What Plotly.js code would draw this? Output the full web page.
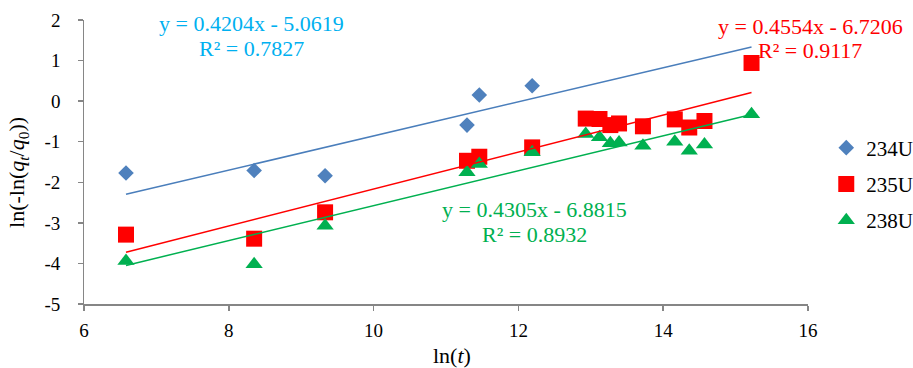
<!DOCTYPE html>
<html>
<head>
<meta charset="utf-8">
<script src="https://cdn.plot.ly/plotly-3.0.1.min.js"></script>
<style>html,body{margin:0;padding:0;background:#fff;}#chart{width:913px;height:368px;}</style>
</head>
<body>
<div id="chart"></div>
<script>
// ln(t) values
const lnT = [6.58, 8.35, 9.33, 11.29, 11.46, 12.19, 12.93, 13.12, 13.27, 13.39, 13.72, 14.16, 14.36, 14.57, 15.22];
const lnT234 = [6.58, 8.35, 9.33, 11.29, 11.46, 12.19];
// ln(-ln(qt/q0)) values
const y234 = [-1.77, -1.71, -1.84, -0.59, 0.15, 0.38];
const y235 = [-3.29, -3.39, -2.74, -1.47, -1.37, -1.14, -0.43, -0.44, -0.59, -0.55, -0.62, -0.45, -0.65, -0.49, 0.94];
const y238 = [-3.94, -4.02, -3.07, -1.75, -1.55, -1.26, -0.81, -0.89, -1.04, -1.02, -1.10, -1.00, -1.22, -1.07, -0.32];
// series names
const seriesNames = ['234U', '235U', '238U'];
// linear fits (slope, intercept, R²)
const slopes = [0.4204, 0.4554, 0.4305];
const intercepts = [-5.0619, -6.7206, -6.8815];
const r2 = ['0.7827', '0.9117', '0.8932'];
// trendline x extent
const fitRange = [6.58, 15.22];
// axis ticks
const xTicks = [6, 8, 10, 12, 14, 16];
const yTicks = [-5, -4, -3, -2, -1, 0, 1, 2];
// axis titles
const xTitle = 'ln(<i>t</i>)';
const yTitle = 'ln(-ln(<i>q</i><sub><i>t</i></sub>/<i>q</i><sub>0</sub>))';

const FAM = "'Liberation Serif', 'Times New Roman', serif";
const colors = ['#4F81BD', '#FF0000', '#00B050'];
const lineColors = ['#4A7EBB', '#FF0000', '#00B050'];
const eqColors = ['#00B0F0', '#FF0000', '#00B050'];
const symbols = ['diamond', 'square', 'triangle-up'];
const sizes = [12, 16, 15];
const xs = [lnT234, lnT, lnT];
const ys = [y234, y235, y238];

const traces = [];
for (let i = 0; i < 3; i++) {
  traces.push({
    x: xs[i], y: ys[i], type: 'scatter', mode: 'markers', name: seriesNames[i],
    legendgroup: 'g' + i,
    marker: {symbol: symbols[i], size: sizes[i], color: colors[i], line: {width: 0}}
  });
}
for (let i = 0; i < 3; i++) {
  traces.push({
    x: fitRange, y: fitRange.map(v => slopes[i] * v + intercepts[i]),
    type: 'scatter', mode: 'lines', showlegend: false, hoverinfo: 'skip',
    line: {color: lineColors[i], width: 1.5}
  });
}

function eqLine(i) {
  const s = slopes[i].toFixed(4);
  const b = Math.abs(intercepts[i]).toFixed(4);
  return 'y = ' + s + 'x ' + (intercepts[i] < 0 ? '- ' : '+ ') + b;
}
// equation label positions (paper coords): [x, y of equation line, y of R² line]
const eqPos = [[0.2313, 0.986, 0.901], [1.0028, 0.978, 0.894], [0.6229, 0.331, 0.243]];
const annotations = [];
for (let i = 0; i < 3; i++) {
  const f = {family: FAM, size: 22, color: eqColors[i]};
  annotations.push({xref: 'paper', yref: 'paper', x: eqPos[i][0], y: eqPos[i][1], xanchor: 'center', yanchor: 'middle',
    showarrow: false, text: eqLine(i), font: f});
  annotations.push({xref: 'paper', yref: 'paper', x: eqPos[i][0], y: eqPos[i][2], xanchor: 'center', yanchor: 'middle',
    showarrow: false, text: 'R² = ' + r2[i], font: f});
}
annotations.push({
  xref: 'paper', yref: 'paper', x: 0.508, y: -0.18, xanchor: 'center', yanchor: 'middle',
  showarrow: false, text: xTitle, font: {family: FAM, size: 22, color: '#000'}
});
annotations.push({
  xref: 'paper', yref: 'paper', x: -0.091, y: 0.462, xanchor: 'center', yanchor: 'middle',
  showarrow: false, textangle: -90, text: yTitle, font: {family: FAM, size: 22, color: '#000'}
});

const font = {family: FAM, size: 19, color: '#000'};
const layout = {
  width: 913, height: 368,
  margin: {l: 84, r: 105, t: 20, b: 64},
  paper_bgcolor: '#fff', plot_bgcolor: '#fff',
  font: font,
  showlegend: true,
  legend: {xref: 'container', yref: 'container', x: 0.905, xanchor: 'left', y: 0.5, yanchor: 'middle',
           traceorder: 'grouped', tracegroupgap: 6,
           font: {family: FAM, size: 21, color: '#000'}, itemwidth: 30,
           bgcolor: 'rgba(0,0,0,0)'},
  xaxis: {
    range: [6, 16], tickvals: xTicks, ticktext: xTicks.map(String), showgrid: false, zeroline: false,
    showline: true, linecolor: '#868686', linewidth: 1.5, ticks: 'outside', ticklen: 5, tickcolor: '#868686', tickwidth: 1.5,
    tickfont: font, automargin: false, ticklabelstandoff: 4
  },
  yaxis: {
    range: [-5, 2], tickvals: yTicks, ticktext: yTicks.map(v => String(v) + '\u2002\u2009'), showgrid: false, zeroline: false,
    showline: true, linecolor: '#868686', linewidth: 1.5, ticks: 'outside', ticklen: 5, tickcolor: '#868686', tickwidth: 1.5,
    tickfont: font, automargin: false
  },
  annotations: annotations
};
Plotly.newPlot('chart', traces, layout, {displayModeBar: false, staticPlot: true});
</script>
</body>
</html>
